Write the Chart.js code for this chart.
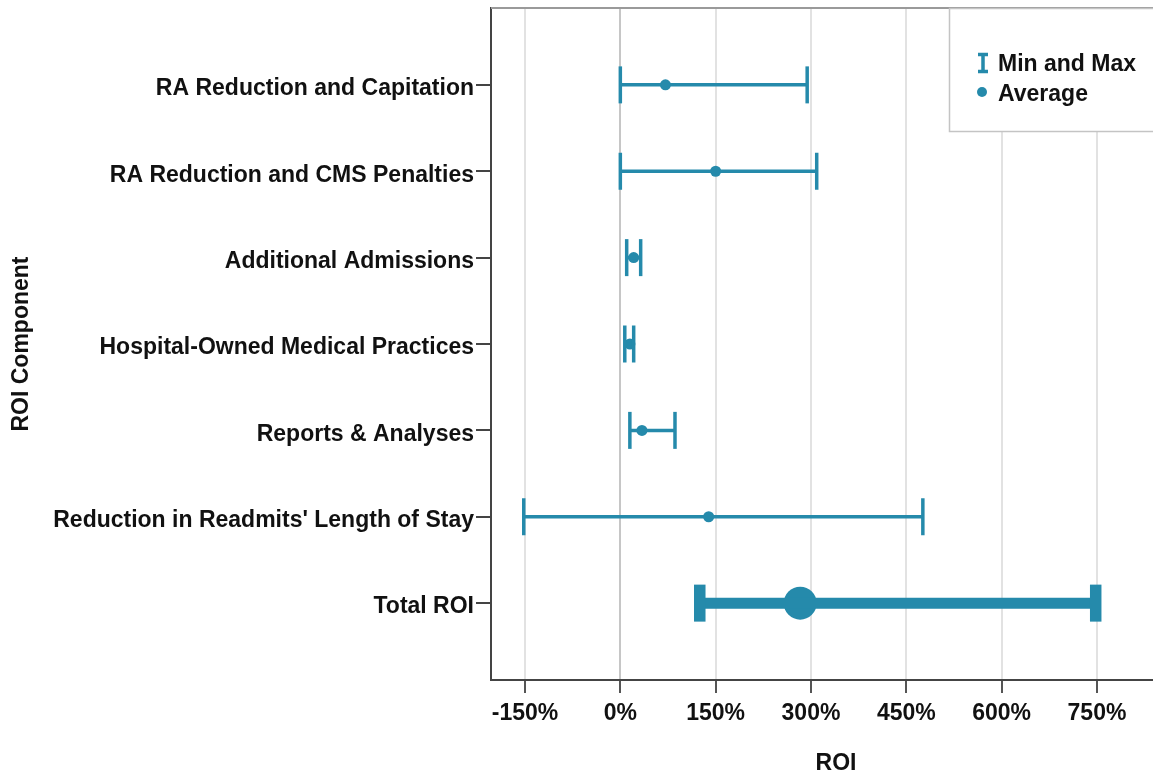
<!DOCTYPE html>
<html>
<head>
<meta charset="utf-8">
<script src="https://cdn.jsdelivr.net/npm/chart.js@4/dist/chart.umd.min.js"></script>
<style>
  html, body { margin: 0; padding: 0; background: #fff; overflow: hidden; }
  #wrap { width: 1181px; height: 776px; }
</style>
</head>
<body>
<div id="wrap"><canvas id="roi" width="1181" height="776"></canvas></div>
<script>
// values (ROI in %)
const categories = [
  'RA Reduction and Capitation',
  'RA Reduction and CMS Penalties',
  'Additional Admissions',
  'Hospital-Owned Medical Practices',
  'Reports & Analyses',
  "Reduction in Readmits' Length of Stay",
  'Total ROI'
];
const minValues = [0, 0, 10, 7, 15, -152, 125];
const maxValues = [294, 309, 32, 21, 86, 476, 748];
const avgValues = [71, 150, 21, 15, 34, 139, 283];
const xTickValues = [-150, 0, 150, 300, 450, 600, 750];

const TEAL = '#258aab';
const FONT = '"Liberation Sans", Arial, sans-serif';

const isTotal = i => categories[i] === 'Total ROI';

// one dataset per row: horizontal line from min to max with vertical caps
const rangeSets = categories.map((c, i) => ({
  label: c,
  data: [{x: minValues[i], y: i}, {x: maxValues[i], y: i}],
  showLine: true,
  borderColor: TEAL,
  borderWidth: isTotal(i) ? 11 : 3.5,
  pointStyle: 'line',
  rotation: 90,
  pointRadius: 18.5,
  pointBorderColor: TEAL,
  pointBorderWidth: isTotal(i) ? 11.5 : 3.5,
  borderCapStyle: 'butt'
}));

const avgSet = {
  label: 'Average',
  data: avgValues.map((v, i) => ({x: v, y: i})),
  showLine: false,
  pointStyle: 'circle',
  pointRadius: ctx => isTotal(ctx.dataIndex) ? 16.5 : 5.5,
  backgroundColor: TEAL,
  borderColor: TEAL,
  pointBorderWidth: 0
};

const frameAndLegend = {
  id: 'frameAndLegend',
  afterDraw(chart) {
    const {ctx, chartArea: a} = chart;
    ctx.save();
    // top frame line
    ctx.strokeStyle = '#9a9a9a';
    ctx.lineWidth = 2;
    ctx.beginPath();
    ctx.moveTo(a.left, a.top);
    ctx.lineTo(a.right, a.top);
    ctx.stroke();

    // legend box
    ctx.fillStyle = '#fff';
    ctx.fillRect(949, 8, 240, 124);
    ctx.strokeStyle = '#c4c4c4';
    ctx.lineWidth = 1.5;
    ctx.strokeRect(949.5, 8.5, 240, 123);

    // I-beam icon
    ctx.strokeStyle = TEAL;
    ctx.lineWidth = 3.5;
    ctx.beginPath();
    ctx.moveTo(983, 53); ctx.lineTo(983, 73);
    ctx.moveTo(978, 54.5); ctx.lineTo(988, 54.5);
    ctx.moveTo(978, 71.5); ctx.lineTo(988, 71.5);
    ctx.stroke();
    // dot icon
    ctx.fillStyle = TEAL;
    ctx.beginPath();
    ctx.arc(982, 92, 5, 0, Math.PI * 2);
    ctx.fill();

    ctx.fillStyle = '#111';
    ctx.font = 'bold 23px ' + FONT;
    ctx.textBaseline = 'middle';
    ctx.textAlign = 'left';
    ctx.fillText('Min and Max', 998, 65);
    ctx.fillText('Average', 998, 95);
    ctx.restore();
  }
};

new Chart(document.getElementById('roi'), {
  type: 'scatter',
  data: { datasets: [...rangeSets, avgSet] },
  options: {
    responsive: false,
    animation: false,
    events: [],
    layout: { autoPadding: false, padding: { top: 8, right: 0, left: 0, bottom: 0 } },
    plugins: { legend: { display: false }, tooltip: { enabled: false } },
    scales: {
      x: {
        type: 'linear',
        position: 'bottom',
        min: -203.5,
        max: 882.2,
        afterBuildTicks: s => { s.ticks = xTickValues.map(v => ({value: v})); },
        afterFit: s => { s.height = 96; s.paddingLeft = 0; s.paddingRight = 0; },
        ticks: {
          autoSkip: false,
          maxRotation: 0,
          padding: 7,
          color: '#111',
          font: { family: FONT, size: 23, weight: 'bold' },
          callback: v => v + '%'
        },
        grid: {
          color: c => c.tick && c.tick.value === 0 ? '#c6c6c6' : '#e2e2e2',
          lineWidth: 2,
          tickColor: '#555',
          tickLength: 13
        },
        border: { color: '#444', width: 2 },
        title: {
          display: true,
          text: 'ROI',
          color: '#111',
          font: { family: FONT, size: 23, weight: 'bold' },
          padding: { top: 0, bottom: -1 }
        }
      },
      y: {
        type: 'linear',
        position: 'left',
        reverse: true,
        min: -0.89,
        max: 6.89,
        afterBuildTicks: s => { s.ticks = categories.map((c, i) => ({value: i})); },
        afterFit: s => { s.width = 491; s.paddingTop = 0; s.paddingBottom = 0; },
        ticks: {
          autoSkip: false,
          padding: 2,
          labelOffset: 4,
          color: '#111',
          font: { family: FONT, size: 23, weight: 'bold' },
          callback: v => categories[v]
        },
        grid: {
          drawOnChartArea: false,
          tickColor: '#444',
          tickLength: 15,
          lineWidth: 2
        },
        border: { color: '#444', width: 2 },
        title: {
          display: true,
          text: 'ROI Component',
          color: '#111',
          font: { family: FONT, size: 23, weight: 'bold' },
          padding: { top: 8, bottom: 0 }
        }
      }
    }
  },
  plugins: [frameAndLegend]
});
</script>
</body>
</html>
